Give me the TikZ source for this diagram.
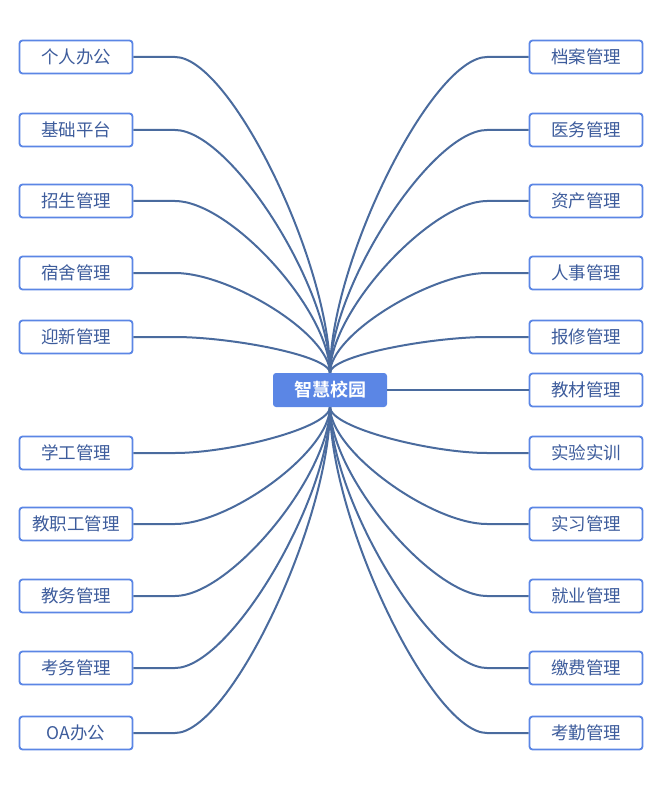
\documentclass[tikz,border=0pt]{standalone}
\usepackage{fontspec}
\newfontfamily\cjk{Noto Sans CJK SC}
\newfontfamily\cjkbold{Noto Sans CJK SC Bold}
\usetikzlibrary{
  positioning, % for relative placement
}
\definecolor{boxblue}{HTML}{5B86E5}
\definecolor{linkblue}{HTML}{4A6B9E}
\definecolor{textblue}{HTML}{3D5C9C}
\tikzset{
  topic/.style={ % style for the central topic
    rectangle,rounded corners=3pt,fill=boxblue,text=white,
    minimum width=114pt,minimum height=34pt,font=\cjkbold\fontsize{18}{19}\selectfont,
  },
  leaf/.style={ % style for each module box
    rectangle,rounded corners=3pt,draw=boxblue,line width=1.8pt,fill=white,text=textblue,
    minimum width=113pt,minimum height=33pt,font=\cjk\fontsize{17.5}{19}\selectfont,
  },
  link/.style={ % style for the connectors
    draw=linkblue,line width=2pt,
  },
}
\begin{document}
\begin{tikzpicture}[x=1pt,y=-1pt]
  \useasboundingbox (0,0) rectangle (660,791);

  \coordinate (hubN) at (330,373);
  \coordinate (hubS) at (330,407);

  % left side
  \foreach \i/\y/\t in {1/57/个人办公,2/130/基础平台,3/201/招生管理,4/273/宿舍管理,5/337/迎新管理,
                        6/453/学工管理,7/524/教职工管理,8/596/教务管理,9/668/考务管理,10/733/OA办公}{
    \node[leaf] (l\i) at (76,\y) {\t};
    \coordinate (lb\i) at (175,\y);
    \ifnum\y<390
      \draw[link] (l\i.east) -- (lb\i) .. controls +(55,0) and +(0,\y/3-130) .. (hubN);
    \else
      \draw[link] (l\i.east) -- (lb\i) .. controls +(55,0) and +(0,\y/3-130) .. (hubS);
    \fi
  }

  % right side
  \foreach \i/\y/\t in {1/57/档案管理,2/130/医务管理,3/201/资产管理,4/273/人事管理,5/337/报修管理,
                        7/453/实验实训,8/524/实习管理,9/596/就业管理,10/668/缴费管理,11/733/考勤管理}{
    \node[leaf] (r\i) at (586,\y) {\t};
    \coordinate (rb\i) at (487,\y);
    \ifnum\y<390
      \draw[link] (r\i.west) -- (rb\i) .. controls +(-55,0) and +(0,\y/3-130) .. (hubN);
    \else
      \draw[link] (r\i.west) -- (rb\i) .. controls +(-55,0) and +(0,\y/3-130) .. (hubS);
    \fi
  }
  \node[leaf] (r6) at (586,390) {教材管理};

  \node[topic] (hub) at (330,390) {智慧校园};
  \draw[link] (hub.east) -- (r6.west);
\end{tikzpicture}
\end{document}
